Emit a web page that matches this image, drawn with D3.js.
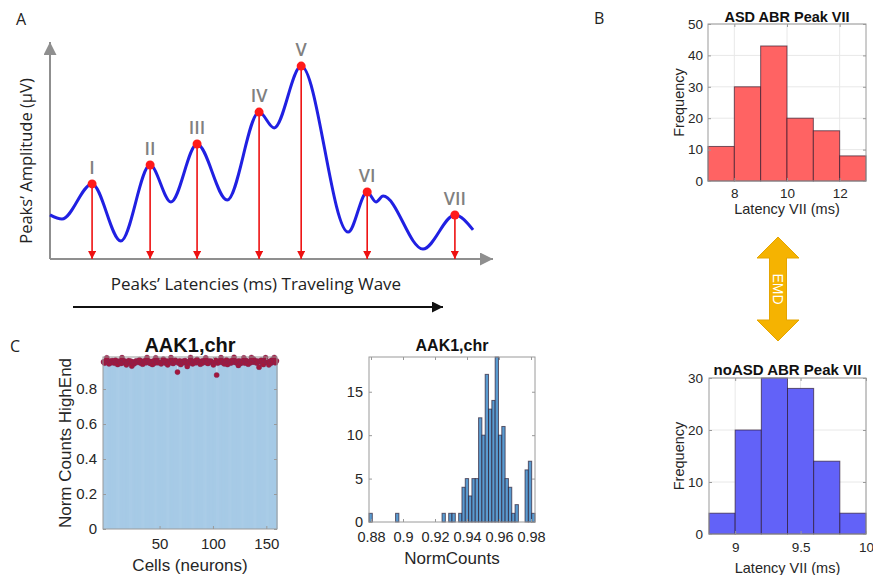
<!DOCTYPE html>
<html>
<head>
<meta charset="utf-8">
<script src="https://cdn.jsdelivr.net/npm/d3@7"></script>
<style>
body { margin: 0; background: #fff; }
svg { display: block; }
text { font-family: "Liberation Sans", Arial, sans-serif; }
</style>
</head>
<body>
<script>
//Width and height
var w = 873;
var h = 575;

// ---- Panel A : ABR traveling wave (arbitrary ms / uV units)
var peakNames = ["I", "II", "III", "IV", "V", "VI", "VII"];
var peakLatency = [0.95, 2.26, 3.32, 4.72, 5.67, 7.16, 9.14];
var peakAmp = [0.346, 0.433, 0.530, 0.677, 0.889, 0.309, 0.203];
var waveLatency = [0, 0.27, 0.95, 1.60, 2.26, 2.73, 3.32, 4.00, 4.72, 5.06, 5.67, 6.73, 7.16, 7.36, 7.52, 8.42, 9.14, 9.55];
var waveAmp = [0.203, 0.184, 0.346, 0.083, 0.433, 0.263, 0.530, 0.272, 0.677, 0.604, 0.889, 0.124, 0.309, 0.263, 0.290, 0.046, 0.203, 0.134];

// ---- Panel B : latency VII histograms
var asdEdges = [7, 8, 9, 10, 11, 12, 13];
var asdCounts = [11, 30, 43, 20, 16, 8];
var noasdEdges = [8.8, 9.0, 9.2, 9.4, 9.6, 9.8, 10.0];
var noasdCounts = [4, 20, 30, 28, 14, 4];

// ---- Panel C : AAK1,chr normalized counts per cell
var cellValues = [
  0.955, 0.948, 0.961, 0.978, 0.953, 0.944, 0.959, 0.950, 0.963, 0.957,
  0.948, 0.965, 0.953, 0.940, 0.959, 0.955, 0.946, 0.979, 0.950, 0.961,
  0.957, 0.938, 0.953, 0.963, 0.948, 0.959, 0.931, 0.955, 0.944, 0.950,
  0.961, 0.953, 0.957, 0.967, 0.948, 0.959, 0.942, 0.955, 0.963, 0.950,
  0.980, 0.953, 0.959, 0.946, 0.957, 0.940, 0.961, 0.948, 0.978, 0.955,
  0.950, 0.963, 0.959, 0.944, 0.953, 0.971, 0.957, 0.948, 0.961, 0.938,
  0.955, 0.950, 0.979, 0.959, 0.946, 0.953, 0.965, 0.957, 0.897, 0.948,
  0.961, 0.940, 0.955, 0.959, 0.950, 0.963, 0.953, 0.929, 0.957, 0.948,
  0.980, 0.959, 0.944, 0.955, 0.961, 0.950, 0.969, 0.953, 0.957, 0.942,
  0.959, 0.948, 0.963, 0.955, 0.978, 0.950, 0.946, 0.961, 0.953, 0.959,
  0.957, 0.938, 0.955, 0.965, 0.880, 0.948, 0.959, 0.953, 0.979, 0.961,
  0.950, 0.944, 0.957, 0.967, 0.940, 0.955, 0.959, 0.948, 0.963, 0.953,
  0.981, 0.957, 0.950, 0.959, 0.935, 0.961, 0.946, 0.955, 0.953, 0.978,
  0.948, 0.963, 0.959, 0.942, 0.957, 0.950, 0.980, 0.955, 0.971, 0.953,
  0.961, 0.948, 0.959, 0.925, 0.957, 0.965, 0.950, 0.940, 0.963, 0.979,
  0.955, 0.953, 0.938, 0.959, 0.948, 0.967, 0.957, 0.980, 0.950, 0.961
];
var normRange = [0.87875, 0.9825];
var normCounts = [
  1, 0, 0, 0, 0, 0, 0, 0, 1, 0,
  0, 0, 0, 0, 0, 0, 0, 0, 0, 0,
  0, 0, 1, 0, 1, 1, 0, 1, 4, 5,
  3, 5, 5, 12, 10, 17, 13, 14, 19, 10,
  11, 5, 4, 1, 2, 0, 0, 6, 7, 1
];

//Create SVG element
var svg = d3.select("body")
            .append("svg")
            .attr("width", w)
            .attr("height", h);

var defs = svg.append("defs");
function arrowMarker(id, color, size) {
  defs.append("marker")
    .attr("id", id)
    .attr("viewBox", "0 0 10 10")
    .attr("refX", 10).attr("refY", 5)
    .attr("markerUnits", "userSpaceOnUse")
    .attr("markerWidth", size).attr("markerHeight", size)
    .attr("orient", "auto")
    .append("path")
    .attr("d", "M0,0 L10,5 L0,10 Z")
    .attr("fill", color);
}
arrowMarker("arrGrey", "#8f8f8f", 13);
arrowMarker("arrRed", "#ee1111", 8);
arrowMarker("arrBlack", "#111", 11);

// panel letters
var letters = [["A", 16, 25], ["B", 594, 24], ["C", 10, 352]];
svg.selectAll("text.letter").data(letters).enter().append("text")
  .attr("class", "letter")
  .attr("x", function(d) { return d[1]; })
  .attr("y", function(d) { return d[2]; })
  .style("font-family", "'Open Sans', sans-serif")
  .style("font-size", "16px")
  .attr("fill", "#222")
  .text(function(d) { return d[0]; });

// ================= Panel A
var xA = d3.scaleLinear().domain([0, 10]).range([50, 493]);
var yA = d3.scaleLinear().domain([0, 1]).range([259, 42]);
var gA = svg.append("g").attr("class", "panelA");

gA.append("line")
  .attr("x1", xA(0)).attr("y1", yA(0)).attr("x2", xA(0)).attr("y2", yA(1))
  .attr("stroke", "#8f8f8f").attr("stroke-width", 2)
  .attr("marker-end", "url(#arrGrey)");
gA.append("line")
  .attr("x1", xA(0)).attr("y1", yA(0)).attr("x2", xA(10)).attr("y2", yA(0))
  .attr("stroke", "#8f8f8f").attr("stroke-width", 2)
  .attr("marker-end", "url(#arrGrey)");

var wave = d3.line()
  .x(function(d, i) { return xA(waveLatency[i]); })
  .y(function(d, i) { return yA(waveAmp[i]); })
  .curve(d3.curveMonotoneX);
gA.append("path")
  .attr("d", wave(waveLatency))
  .attr("fill", "none")
  .attr("stroke", "#2020e2")
  .attr("stroke-width", 3);

gA.selectAll("line.peak").data(peakLatency).enter().append("line")
  .attr("class", "peak")
  .attr("x1", function(d) { return xA(d); })
  .attr("x2", function(d) { return xA(d); })
  .attr("y1", function(d, i) { return yA(peakAmp[i]); })
  .attr("y2", yA(0))
  .attr("stroke", "#ee1111").attr("stroke-width", 1.6)
  .attr("marker-end", "url(#arrRed)");

gA.selectAll("circle.peak").data(peakLatency).enter().append("circle")
  .attr("class", "peak")
  .attr("cx", function(d) { return xA(d); })
  .attr("cy", function(d, i) { return yA(peakAmp[i]); })
  .attr("r", 4.5)
  .attr("fill", "#ff1a1a");

gA.selectAll("text.peakName").data(peakNames).enter().append("text")
  .attr("class", "peakName")
  .attr("x", function(d, i) { return xA(peakLatency[i]); })
  .attr("y", function(d, i) { return yA(peakAmp[i]) - 10; })
  .attr("text-anchor", "middle")
  .style("font-family", "'Open Sans', sans-serif")
  .style("font-size", "18px")
  .style("font-weight", "600")
  .attr("fill", "#808080")
  .text(function(d) { return d; });

gA.append("text")
  .attr("transform", "translate(32,161) rotate(-90)")
  .attr("text-anchor", "middle")
  .style("font-family", "'Open Sans', sans-serif")
  .style("font-size", "16.5px")
  .attr("fill", "#222")
  .text("Peaks\u2019 Amplitude (\u00b5V)");
gA.append("text")
  .attr("x", 256).attr("y", 290)
  .attr("text-anchor", "middle")
  .style("font-family", "'Open Sans', sans-serif")
  .style("font-size", "17px")
  .attr("fill", "#222")
  .text("Peaks\u2019 Latencies (ms)  Traveling Wave");
gA.append("line")
  .attr("x1", 73).attr("y1", 307).attr("x2", 443).attr("y2", 307)
  .attr("stroke", "#111").attr("stroke-width", 2)
  .attr("marker-end", "url(#arrBlack)");

// ================= MATLAB style axes helper
function matlabAxes(cfg) {
  var g = svg.append("g");
  var x = d3.scaleLinear().domain(cfg.xDomain).range([cfg.left, cfg.right]);
  var y = d3.scaleLinear().domain(cfg.yDomain).range([cfg.bottom, cfg.top]);

  if (cfg.grid) {
    g.selectAll("line.gx").data(cfg.xTicks).enter().append("line")
      .attr("x1", function(d) { return x(d); }).attr("x2", function(d) { return x(d); })
      .attr("y1", cfg.top).attr("y2", cfg.bottom)
      .attr("stroke", "#e8e8e8").attr("stroke-width", 1);
    g.selectAll("line.gy").data(cfg.yTicks).enter().append("line")
      .attr("y1", function(d) { return y(d); }).attr("y2", function(d) { return y(d); })
      .attr("x1", cfg.left).attr("x2", cfg.right)
      .attr("stroke", "#e8e8e8").attr("stroke-width", 1);
  }

  cfg.marks(g, x, y);

  g.append("rect")
    .attr("x", cfg.left).attr("y", cfg.top)
    .attr("width", cfg.right - cfg.left).attr("height", cfg.bottom - cfg.top)
    .attr("fill", "none").attr("stroke", "#9a9a9a").attr("stroke-width", 1);

  g.append("g").attr("transform", "translate(0," + cfg.bottom + ")")
    .call(d3.axisBottom(x).tickValues(cfg.xTicks).tickFormat(d3.format("~g"))
      .tickSizeInner(-3).tickSizeOuter(0).tickPadding(cfg.xPad));
  g.append("g").attr("transform", "translate(" + cfg.left + ",0)")
    .call(d3.axisLeft(y).tickValues(cfg.yTicks).tickFormat(d3.format("~g"))
      .tickSizeInner(-3).tickSizeOuter(0).tickPadding(cfg.yPad));
  g.append("g").attr("transform", "translate(0," + cfg.top + ")")
    .call(d3.axisTop(x).tickValues(cfg.xTicks).tickFormat("").tickSizeInner(-3).tickSizeOuter(0));
  g.append("g").attr("transform", "translate(" + cfg.right + ",0)")
    .call(d3.axisRight(y).tickValues(cfg.yTicks).tickFormat("").tickSizeInner(-3).tickSizeOuter(0));
  g.selectAll(".domain").remove();
  g.selectAll(".tick line").attr("stroke", "#9a9a9a");
  g.selectAll(".tick text")
    .attr("fill", "#262626")
    .style("font-family", "'Liberation Sans', Arial, sans-serif")
    .style("font-size", cfg.tickFont + "px");

  g.append("text")
    .attr("x", (cfg.left + cfg.right) / 2).attr("y", cfg.titleY)
    .attr("text-anchor", "middle")
    .style("font-size", cfg.titleFont + "px").style("font-weight", "bold")
    .attr("fill", "#111")
    .text(cfg.title);
  g.append("text")
    .attr("x", (cfg.left + cfg.right) / 2).attr("y", cfg.xLabelY)
    .attr("text-anchor", "middle")
    .style("font-size", cfg.labelFont + "px")
    .attr("fill", "#262626")
    .text(cfg.xLabel);
  if (cfg.yLabel) {
    g.append("text")
      .attr("transform", "translate(" + cfg.yLabelX + "," + (cfg.top + cfg.bottom) / 2 + ") rotate(-90)")
      .attr("text-anchor", "middle")
      .style("font-size", cfg.labelFont + "px")
      .attr("fill", "#262626")
      .text(cfg.yLabel);
  }
  return g;
}

function histMarks(edges, counts, fill) {
  return function(g, x, y) {
    g.selectAll("rect.bin").data(counts).enter().append("rect")
      .attr("class", "bin")
      .attr("x", function(d, i) { return x(edges[i]); })
      .attr("width", function(d, i) { return x(edges[i + 1]) - x(edges[i]); })
      .attr("y", function(d) { return y(d); })
      .attr("height", function(d) { return y(0) - y(d); })
      .attr("fill", fill)
      .attr("stroke", "rgba(40,20,40,0.65)")
      .attr("stroke-width", 1);
  };
}

// ================= Panel B
matlabAxes({
  left: 708, right: 866, top: 24, bottom: 181,
  xDomain: [7, 13], yDomain: [0, 50],
  xTicks: [8, 10, 12], yTicks: [0, 10, 20, 30, 40, 50],
  grid: true, xPad: 7, yPad: 5, tickFont: 13.5,
  title: "ASD ABR Peak VII", titleY: 22, titleFont: 14.5,
  xLabel: "Latency VII (ms)", xLabelY: 214,
  yLabel: "Frequency", yLabelX: 684, labelFont: 14.5,
  marks: histMarks(asdEdges, asdCounts, "#ff6363")
});

matlabAxes({
  left: 709, right: 866, top: 378, bottom: 534,
  xDomain: [8.8, 10.0], yDomain: [0, 30],
  xTicks: [9, 9.5, 10], yTicks: [0, 10, 20, 30],
  grid: true, xPad: 8, yPad: 6, tickFont: 13.5,
  title: "noASD ABR Peak VII", titleY: 375, titleFont: 15,
  xLabel: "Latency VII (ms)", xLabelY: 573,
  yLabel: "Frequency", yLabelX: 684, labelFont: 14.5,
  marks: histMarks(noasdEdges, noasdCounts, "#6262f8")
});

// EMD double arrow
var emdX = 778, emdTop = 237, emdBot = 341, headW = 21, shaftW = 8.5, headL = 21;
var emd = d3.path();
emd.moveTo(emdX, emdTop);
emd.lineTo(emdX + headW, emdTop + headL);
emd.lineTo(emdX + shaftW, emdTop + headL);
emd.lineTo(emdX + shaftW, emdBot - headL);
emd.lineTo(emdX + headW, emdBot - headL);
emd.lineTo(emdX, emdBot);
emd.lineTo(emdX - headW, emdBot - headL);
emd.lineTo(emdX - shaftW, emdBot - headL);
emd.lineTo(emdX - shaftW, emdTop + headL);
emd.lineTo(emdX - headW, emdTop + headL);
emd.closePath();
svg.append("path").attr("d", emd.toString())
  .attr("fill", "#f5b301").attr("stroke", "#e5a500").attr("stroke-width", 1);
svg.append("text")
  .attr("transform", "translate(" + (emdX - 5) + "," + ((emdTop + emdBot) / 2) + ") rotate(90)")
  .attr("text-anchor", "middle")
  .style("font-size", "14px")
  .attr("fill", "#fff")
  .text("EMD");

// ================= Panel C (left): per-cell bars + dots
var cellIds = d3.range(1, cellValues.length + 1);
matlabAxes({
  left: 103, right: 277, top: 357, bottom: 529,
  xDomain: [-3, 160], yDomain: [0, 0.983],
  xTicks: [50, 100, 150], yTicks: [0, 0.2, 0.4, 0.6, 0.8],
  grid: false, xPad: 9, yPad: 6, tickFont: 15,
  title: "AAK1,chr", titleY: 352, titleFont: 20,
  xLabel: "Cells (neurons)", xLabelY: 571,
  yLabel: "Norm Counts HighEnd", yLabelX: 71, labelFont: 17,
  marks: function(g, x, y) {
    var band = d3.scaleBand().domain(cellIds).range([103, 277]).paddingInner(0);
    g.selectAll("rect.cell").data(cellValues).enter().append("rect")
      .attr("class", "cell")
      .attr("x", function(d, i) { return band(cellIds[i]); })
      .attr("width", band.bandwidth() + 0.6)
      .attr("y", function(d) { return y(d); })
      .attr("height", function(d) { return y(0) - y(d); })
      .attr("fill", "#a6cae6");
    g.selectAll("circle.cell").data(cellValues).enter().append("circle")
      .attr("class", "cell")
      .attr("cx", function(d, i) { return band(cellIds[i]) + band.bandwidth() / 2; })
      .attr("cy", function(d) { return y(d); })
      .attr("r", 2.6)
      .attr("fill", "#a3173c")
      .attr("stroke", "#7a2a5a").attr("stroke-width", 0.4);
  }
});

// ================= Panel C (right): histogram of normalized counts
var normEdges = d3.range(normCounts.length + 1).map(function(i) {
  return normRange[0] + i * (normRange[1] - normRange[0]) / normCounts.length;
});
matlabAxes({
  left: 369, right: 535, top: 357, bottom: 522,
  xDomain: normRange, yDomain: [0, 19],
  xTicks: [0.88, 0.9, 0.92, 0.94, 0.96, 0.98], yTicks: [0, 5, 10, 15],
  grid: false, xPad: 10, yPad: 6, tickFont: 14.5,
  title: "AAK1,chr", titleY: 351, titleFont: 16,
  xLabel: "NormCounts", xLabelY: 564,
  yLabel: null, labelFont: 17,
  marks: histMarks(normEdges, normCounts, "#5a9bd0")
});
</script>
</body>
</html>
